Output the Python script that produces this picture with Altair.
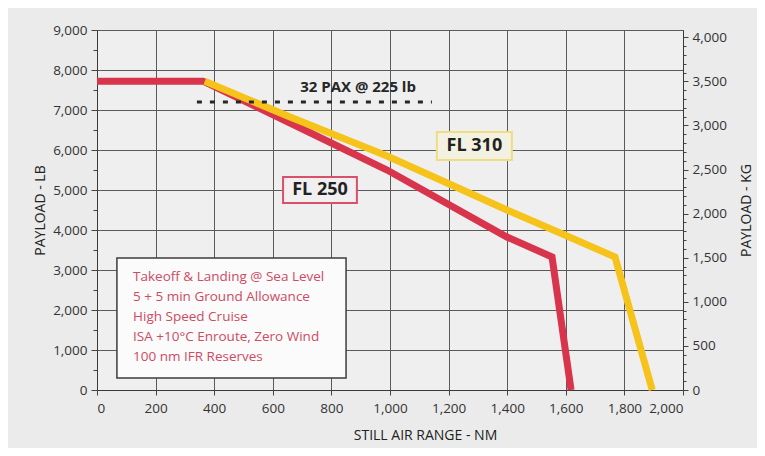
import altair as alt
import pandas as pd

# ---- data ----
fl250_nm = [0, 362, 659, 990, 1399, 1553, 1618]
fl250_lb = [7720, 7720, 6675, 5500, 3825, 3325, 0]

fl310_nm = [368, 659, 990, 1195, 1399, 1573, 1768, 1895]
fl310_lb = [7720, 6825, 5850, 5175, 4500, 3950, 3325, 0]

pax_nm = [341, 1143]
pax_lb = [7200, 7200]

conditions = [
    "Takeoff & Landing @ Sea Level",
    "5 + 5 min Ground Allowance",
    "High Speed Cruise",
    "ISA +10°C Enroute,  Zero Wind",
    "100 nm IFR Reserves",
]

LB_PER_KG = 2.20462
RED = "#d8354d"
YELLOW = "#f6c31b"
FONT = "Open Sans"

x_scale = alt.Scale(domain=[0, 2000], nice=False)
y_scale = alt.Scale(domain=[0, 9000], nice=False)

x_axis = alt.Axis(
    title="STILL AIR RANGE - NM", values=list(range(0, 2001, 200)),
    labelExpr="format(datum.value, ',')",
    grid=True, tickSize=5, labelPadding=6, titlePadding=14,
    titleX=328, titleAlign="center", labelOverlap=False,
)
y_axis = alt.Axis(
    title="PAYLOAD - LB", values=list(range(0, 9001, 500)),
    labelExpr="datum.value % 1000 === 0 ? format(datum.value, ',') : ''",
    labelOverlap=False, grid=True, labelPadding=4, titlePadding=5,
    tickSize={"condition": {"test": "datum.value % 1000 === 0", "value": 6}, "value": 4},
    gridOpacity={"condition": {"test": "datum.value % 1000 === 0", "value": 1}, "value": 0},
)

X = lambda: alt.X("nm:Q", scale=x_scale, axis=x_axis, title="STILL AIR RANGE - NM")
Y = lambda: alt.Y("lb:Q", scale=y_scale, axis=y_axis, title="PAYLOAD - LB")

df250 = pd.DataFrame({"nm": fl250_nm, "lb": fl250_lb})
df310 = pd.DataFrame({"nm": fl310_nm, "lb": fl310_lb})

line250 = alt.Chart(df250).mark_line(
    color=RED, strokeWidth=7, strokeJoin="miter", strokeCap="butt"
).encode(x=X(), y=Y(), order="nm:Q")
line310 = alt.Chart(df310).mark_line(
    color=YELLOW, strokeWidth=7, strokeJoin="miter", strokeCap="butt"
).encode(x=X(), y=Y(), order="nm:Q")

pax_df = pd.DataFrame({"nm": [pax_nm[0]], "nm2": [pax_nm[1]], "lb": [pax_lb[0]]})
pax_rule = alt.Chart(pax_df).mark_rule(
    color="#262626", strokeWidth=3, strokeDash=[5, 8]
).encode(x=X(), x2="nm2:Q", y=Y())
pax_text = alt.Chart(pd.DataFrame({"nm": [891], "lb": [7575], "t": ["32 PAX @ 225 lb"]})).mark_text(
    font=FONT, fontSize=15, fontWeight="bold", color="#262626", align="center", baseline="middle"
).encode(x=X(), y=Y(), text="t:N")

# label boxes
box310 = alt.Chart(pd.DataFrame({"nm": [1160], "nm2": [1416], "lb": [5750], "lb2": [6450]})).mark_rect(
    fill="#f3f1e1", stroke="#eedd82", strokeWidth=2
).encode(x=X(), x2="nm2:Q", y=Y(), y2="lb2:Q")
box250 = alt.Chart(pd.DataFrame({"nm": [635], "nm2": [887], "lb": [4675], "lb2": [5325]})).mark_rect(
    fill="#f1efef", stroke="#d9506a", strokeWidth=2
).encode(x=X(), x2="nm2:Q", y=Y(), y2="lb2:Q")
lbl_df = pd.DataFrame({"nm": [1288, 761], "lb": [6100, 5000], "t": ["FL 310", "FL 250"]})
lbl_text = alt.Chart(lbl_df).mark_text(
    font=FONT, fontSize=18, fontWeight="bold", color="#222222", align="center", baseline="middle"
).encode(x=X(), y=Y(), text="t:N")

cond_box = alt.Chart(pd.DataFrame({"nm": [68], "nm2": [850], "lb": [300], "lb2": [3300]})).mark_rect(
    fill="#fbfbfb", stroke="#3c3c3c", strokeWidth=1.5
).encode(x=X(), x2="nm2:Q", y=Y(), y2="lb2:Q")
cond_df = pd.DataFrame({"nm": [123] * 5, "lb": [2825, 2325, 1825, 1325, 825], "t": conditions})
cond_text = alt.Chart(cond_df).mark_text(
    font=FONT, fontSize=13.5, color="#cf4a64", align="left", baseline="middle"
).encode(x=X(), y=Y(), text="t:N")

main = alt.layer(line250, line310, pax_rule, pax_text, box310, box250, lbl_text,
                 cond_box, cond_text)

kg_df = pd.DataFrame({"kg": [0, 9000 / LB_PER_KG]})
kg_layer = alt.Chart(kg_df).mark_point(opacity=0).encode(
    y=alt.Y("kg:Q", scale=alt.Scale(domain=[0, 9000 / LB_PER_KG], nice=False),
            axis=alt.Axis(
                orient="right", title="PAYLOAD - KG", values=list(range(0, 4001, 100)),
                labelExpr="datum.value % 500 === 0 ? format(datum.value, ',') : ''",
                labelOverlap=False, grid=False, labelPadding=4,
                tickSize={"condition": {"test": "datum.value % 500 === 0", "value": 5}, "value": 3},
                titleAngle=270, titleBaseline="top", titlePadding=13,
            ))
)

chart = alt.layer(main, kg_layer).resolve_scale(y="independent").properties(
    width=586, height=360,
    autosize=alt.AutoSizeParams(type="none"),
    padding={"left": 89, "top": 22, "right": 74, "bottom": 58},
    background="#ebebeb",
).configure_view(
    fill="#efefef", stroke="#3a3a3a", strokeWidth=1
).configure_axis(
    labelFont=FONT, labelFontSize=13.5, labelColor="#333333",
    titleFont=FONT, titleFontSize=14, titleFontWeight="normal", titleColor="#222222",
    gridColor="#5a5a5a", gridWidth=1, tickColor="#444444", domainColor="#3a3a3a",
)

chart.save("out.html", embed_options={"renderer": "svg", "actions": False})
